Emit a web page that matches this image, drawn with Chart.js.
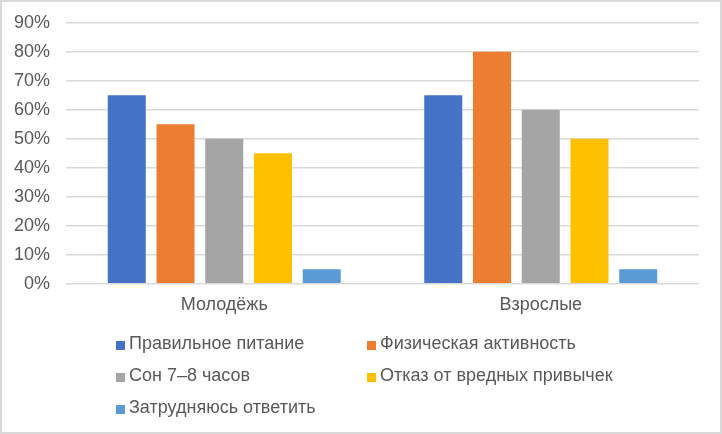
<!DOCTYPE html>
<html>
<head>
<meta charset="utf-8">
<script src="https://cdn.jsdelivr.net/npm/chart.js@4"></script>
<style>
  html, body { margin: 0; padding: 0; background: #fff; }
  #wrap { position: relative; width: 722px; height: 434px; box-sizing: border-box; border: 2px solid #d9d9d9; background: #fff; overflow: hidden; }
  #c { position: absolute; left: 0; top: 0; }
  .lg { position: absolute; font-family: "Liberation Sans", Arial, sans-serif; font-size: 18px; color: #595959; line-height: 20px; white-space: nowrap; }
  .sw { position: absolute; width: 9px; height: 9px; }
</style>
</head>
<body>
<div id="wrap">
  <canvas id="c" width="718" height="430"></canvas>
  <div id="legend"></div>
</div>
<script>
const categories = ["Молодёжь", "Взрослые"];
const seriesNames = ["Правильное питание", "Физическая активность", "Сон 7–8 часов", "Отказ от вредных привычек", "Затрудняюсь ответить"];
const healthyFood = [65, 65];
const physicalActivity = [55, 80];
const sleep7to8 = [50, 60];
const quitHabits = [45, 50];
const hardToSay = [5, 5];
const yTickValues = [0, 10, 20, 30, 40, 50, 60, 70, 80, 90];
const colors = ["#4472C4", "#ED7D31", "#A5A5A5", "#FFC000", "#5B9BD5"];

const seriesData = [healthyFood, physicalActivity, sleep7to8, quitHabits, hardToSay];
const textColor = "#595959";
const fontFamily = "'Liberation Sans', Arial, sans-serif";

const chart = new Chart(document.getElementById("c"), {
  type: "bar",
  data: {
    labels: categories,
    datasets: seriesNames.map((n, i) => ({
      label: n,
      data: seriesData[i],
      backgroundColor: colors[i],
      borderWidth: 0,
      categoryPercentage: 0.77,
      barPercentage: 0.78
    }))
  },
  options: {
    responsive: false,
    animation: false,
    devicePixelRatio: 1,
    layout: { padding: { left: 0, right: 21, top: 20.7, bottom: 108.3 } },
    plugins: { legend: { display: false }, tooltip: { enabled: false } },
    scales: {
      x: {
        grid: { display: false, drawTicks: false },
        border: { display: false },
        ticks: { color: textColor, font: { family: fontFamily, size: 18 }, padding: 11 },
        afterFit: (s) => { s.height = 40; }
      },
      y: {
        min: 0, max: 90,
        afterBuildTicks: (s) => { s.ticks = yTickValues.map(v => ({ value: v })); },
        grid: { color: "#d9d9d9", lineWidth: 1.5, drawTicks: false },
        border: { display: false },
        ticks: { color: textColor, font: { family: fontFamily, size: 18 }, padding: 16, callback: (v) => v + "%" },
        afterFit: (s) => { s.width = 64; s.paddingTop = 0; s.paddingBottom = 0; }
      }
    }
  }
});

// Legend (HTML, two columns)
const legend = document.getElementById("legend");
const colX = [114, 365];
const rowSwTop = [338.7, 370.7, 402.7];
seriesNames.forEach((n, i) => {
  const col = i % 2, row = Math.floor(i / 2);
  const sw = document.createElement("div");
  sw.className = "sw";
  sw.style.left = colX[col] + "px";
  sw.style.top = rowSwTop[row] + "px";
  sw.style.background = colors[i];
  legend.appendChild(sw);
  const t = document.createElement("div");
  t.className = "lg";
  t.style.left = (colX[col] + 13) + "px";
  t.style.top = (rowSwTop[row] + 8 - 16.2) + "px";
  t.textContent = n;
  legend.appendChild(t);
});
</script>
</body>
</html>
